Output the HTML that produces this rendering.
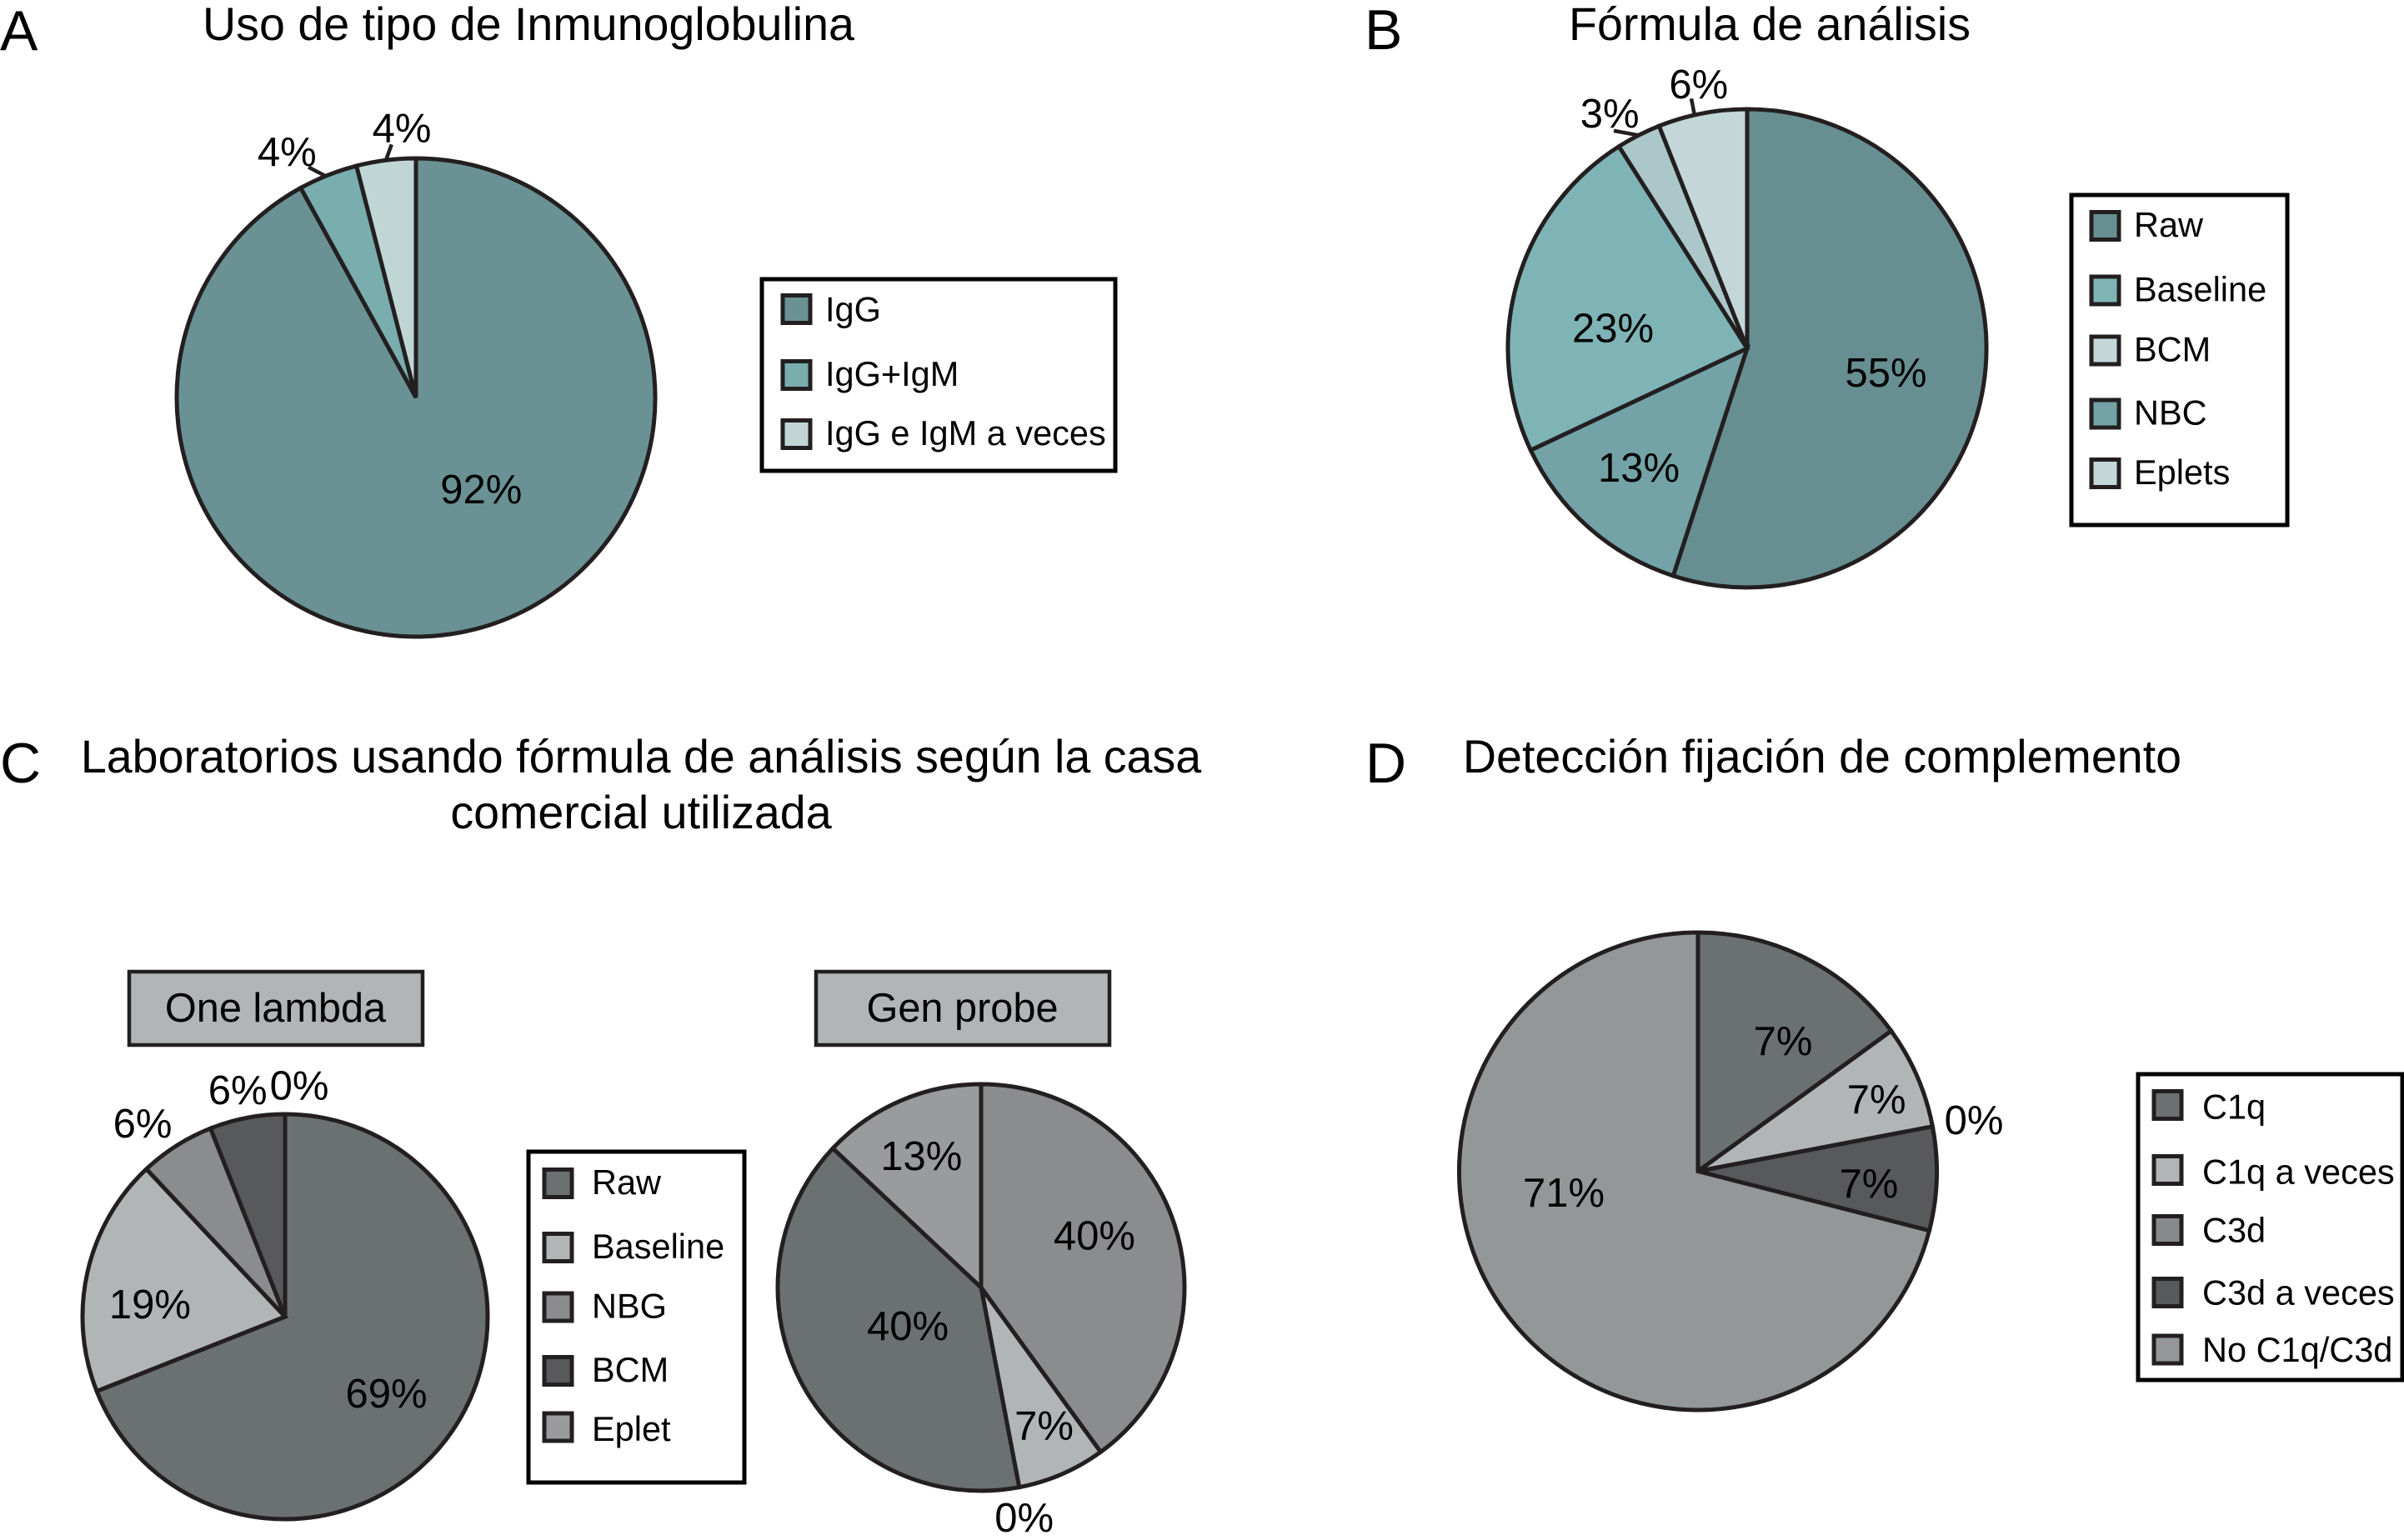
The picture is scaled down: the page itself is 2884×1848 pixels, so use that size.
<!DOCTYPE html>
<html lang="es">
<head>
<meta charset="utf-8">
<title>Inmunoglobulina, fórmula de análisis y fijación de complemento</title>
<style>
html,body{margin:0;padding:0;background:#fff;}
svg{display:block;font-family:"Liberation Sans",Arial,sans-serif;fill:#000;}
</style>
</head>
<body>
<svg id="figure" xmlns="http://www.w3.org/2000/svg" width="2884" height="1848" viewBox="0 0 2884 1848">
  <rect x="0" y="0" width="2884" height="1848" fill="#ffffff"/>
  <text x="0" y="60" font-size="68">A</text>
  <text x="1637" y="59" font-size="68">B</text>
  <text x="0" y="939" font-size="68">C</text>
  <text x="1638" y="939" font-size="68">D</text>
  <text x="634" y="48" font-size="55.6" text-anchor="middle">Uso de tipo de Inmunoglobulina</text>
  <text x="2123" y="48" font-size="55.6" text-anchor="middle">Fórmula de análisis</text>
  <text x="769" y="927" font-size="55.6" text-anchor="middle">Laboratorios usando fórmula de análisis según la casa</text>
  <text x="769" y="994" font-size="55.6" text-anchor="middle">comercial utilizada</text>
  <text x="2186" y="927" font-size="55.6" text-anchor="middle">Detección fijación de complemento</text>
  <rect x="155" y="1166" width="352" height="88" fill="#b1b5b6" stroke="#231f20" stroke-width="4.5"/>
  <text x="330.5" y="1226" font-size="48.7" text-anchor="middle">One lambda</text>
  <rect x="979" y="1166" width="352" height="88" fill="#b1b5b6" stroke="#231f20" stroke-width="4.5"/>
  <text x="1154.5" y="1226" font-size="48.7" text-anchor="middle">Gen probe</text>
  <g id="plots"></g>
</svg>
<script>
// ---- Data (slices run clockwise from 12 o'clock) ----
const panelACategories = ["IgG", "IgG+IgM", "IgG e IgM a veces"];
const panelAValues = [92, 4, 4];
const panelALabels = ["92%", "4%", "4%"];

const panelBCategories = ["Raw", "NBC", "Baseline", "BCM", "Eplets"];
const panelBValues = [55, 13, 23, 3, 6];
const panelBLabels = ["55%", "13%", "23%", "3%", "6%"];
const panelBLegendCategories = ["Raw", "Baseline", "BCM", "NBC", "Eplets"];

const oneLambdaCategories = ["Raw", "Baseline", "NBG", "BCM", "Eplet"];
const oneLambdaValues = [69, 19, 6, 6, 0];
const oneLambdaLabels = ["69%", "19%", "6%", "6%", "0%"];

const genProbeCategories = ["NBG", "Baseline", "BCM", "Raw", "Eplet"];
const genProbeValues = [40, 7, 0, 40, 13];
const genProbeLabels = ["40%", "7%", "0%", "40%", "13%"];
const panelCLegendCategories = ["Raw", "Baseline", "NBG", "BCM", "Eplet"];

const panelDCategories = ["C1q", "C1q a veces", "C3d", "C3d a veces", "No C1q/C3d"];
const panelDValues = [15, 7, 0, 7, 71];
const panelDLabels = ["7%", "7%", "0%", "7%", "71%"];

// ---- Styling and layout, kept apart from the data ----
const INK = "#231f20";
const paletteA = {"IgG": "#6a9294", "IgG+IgM": "#79adae", "IgG e IgM a veces": "#bfd6d5"};
const paletteB = {"Raw": "#678f91", "NBC": "#73a3a6", "Baseline": "#7fb4b6", "BCM": "#abc7ca", "Eplets": "#c3d7d9"};
const paletteBLegend = {"Raw": "#678f91", "Baseline": "#7fb4b6", "BCM": "#c3d7d9", "NBC": "#73a3a6", "Eplets": "#c3d7d9"};
const paletteC = {"Raw": "#6b7071", "Baseline": "#b1b5b6", "NBG": "#8a8c8e", "BCM": "#58595b", "Eplet": "#999b9d"};
const paletteD = {"C1q": "#6b7071", "C1q a veces": "#b1b5b6", "C3d": "#87898b", "C3d a veces": "#58595b", "No C1q/C3d": "#939797"};

const plots = document.getElementById("plots");
const SVG_NS = "http://www.w3.org/2000/svg";

function make(tag, attrs, parent) {
  const el = document.createElementNS(SVG_NS, tag);
  Object.keys(attrs).forEach(function (k) { el.setAttribute(k, attrs[k]); });
  parent.appendChild(el);
  return el;
}
function slug(s) {
  return s.toLowerCase().replace(/[^a-z0-9]+/g, "-");
}
// Angle axis: cumulative share to clockwise degrees from 12 o'clock.
function angleOf(share) {
  return share * 360;
}
function polar(p, deg, radius) {
  const a = deg * Math.PI / 180;
  return [p.cx + radius * Math.sin(a), p.cy - radius * Math.cos(a)];
}

function drawPie(p) {
  const group = make("g", {}, plots);
  
  
  const total = p.values.reduce(function (a, b) { return a + b; }, 0);
  let acc = 0;
  const mids = [];
  p.values.forEach(function (v, i) {
    const start = angleOf(acc / total);
    acc += v;
    const end = angleOf(acc / total);
    mids.push((start + end) / 2);
    if (v <= 0) { return; }
    const a = polar(p, start, p.r);
    const b = polar(p, end, p.r);
    const large = end - start > 180 ? 1 : 0;
    const d = "M" + p.cx + " " + p.cy + " L" + a[0] + " " + a[1] +
      " A" + p.r + " " + p.r + " 0 " + large + " 1 " + b[0] + " " + b[1] + " Z";
    const wedge = make("path", {d: d, fill: p.palette[p.categories[i]], stroke: INK, "stroke-width": 5, "stroke-linejoin": "miter", "stroke-miterlimit": 3}, group);
    
    
  });
  (p.leaders || []).forEach(function (l) {
    const m = mids[l.slice];
    const inner = polar(p, m + l.daIn, p.r);
    const outer = polar(p, m + l.daOut, p.r * l.f);
    const line = make("line", {x1: inner[0], y1: inner[1], x2: outer[0], y2: outer[1], stroke: INK, "stroke-width": 4.5}, group);
    
    
  });
  p.labels.forEach(function (text, i) {
    const place = p.labelPlace[i];
    const pt = polar(p, mids[i] + place[1], p.r * place[0]);
    const t = make("text", {x: pt[0], y: pt[1] + 17, "font-size": 49, "text-anchor": "middle"}, group);
    t.textContent = text;
    
    
  });
}

function drawLegend(l) {
  const group = make("g", {}, plots);
  
  
  const box = make("rect", {x: l.x, y: l.y, width: l.w, height: l.h, fill: "#ffffff", stroke: "#000000", "stroke-width": 5}, group);
  
  
  l.categories.forEach(function (c, i) {
    const sw = make("rect", {x: l.swX, y: l.rows[i] - 16.5, width: 33, height: 33, fill: l.palette[c], stroke: INK, "stroke-width": 5}, group);
    
    
    const t = make("text", {x: l.textX, y: l.rows[i] + 13 + l.textNudge[i], "font-size": 41.5}, group);
    t.textContent = c;
    
    
  });
}

drawPie({
  name: "pie-inmunoglobulina", cx: 499, cy: 477, r: 287,
  categories: panelACategories, values: panelAValues, labels: panelALabels, palette: paletteA,
  labelPlace: [[.47, -21.1], [1.16, -6.1], [1.128, 4.2]],
  leaders: [{slice: 1, daIn: -0.6, daOut: -3.4, f: 1.063}, {slice: 2, daIn: 0, daOut: 1.7, f: 1.063}]
});
drawPie({
  name: "pie-formula-analisis", cx: 2096, cy: 418, r: 287,
  categories: panelBCategories, values: panelBValues, labels: panelBLabels, palette: paletteB,
  labelPlace: [[.589, .9], [.673, .9], [.567, -7.6], [1.138, -3.3], [1.123, .4]],
  leaders: [{slice: 3, daIn: 0, daOut: -4.5, f: 1.067}, {slice: 4, daIn: -1.9, daOut: -1.8, f: 1.07}]
});
drawPie({
  name: "pie-one-lambda", cx: 342, cy: 1580, r: 243,
  categories: oneLambdaCategories, values: oneLambdaValues, labels: oneLambdaLabels, palette: paletteC,
  labelPlace: [[.627, 2.9], [.67, -7.3], [1.186, -4], [1.144, -1], [1.145, 3.5]]
});
drawPie({
  name: "pie-gen-probe", cx: 1177, cy: 1545, r: 244,
  categories: genProbeCategories, values: genProbeValues, labels: genProbeLabels, palette: paletteC,
  labelPlace: [[.613, -6.7], [.746, -1.1], [1.15, .2], [.407, 1.2], [.711, -1]]
});
drawPie({
  name: "pie-fijacion-complemento", cx: 2037, cy: 1405.5, r: 286.5,
  categories: panelDCategories, values: panelDValues, labels: panelDLabels, palette: paletteD,
  labelPlace: [[.652, 6.1], [.806, 1.4], [1.175, .3], [.717, 2.2], [.569, 28.8]]
});

drawLegend({
  name: "legend-inmunoglobulina", x: 914, y: 335, w: 424, h: 230, swX: 939, textX: 990,
  rows: [371, 450, 521], textNudge: [1.5, 0, 0], categories: panelACategories, palette: paletteA
});
drawLegend({
  name: "legend-formula-analisis", x: 2485, y: 234, w: 259, h: 396, swX: 2509, textX: 2560,
  rows: [271, 348.5, 420.5, 496.5, 568], textNudge: [0, 0, 0, 0, 0], categories: panelBLegendCategories, palette: paletteBLegend
});
drawLegend({
  name: "legend-casa-comercial", x: 634, y: 1382, w: 259, h: 397, swX: 653, textX: 710,
  rows: [1420, 1497, 1568.5, 1645, 1712.5], textNudge: [0, 0, 0, 0, 3.5], categories: panelCLegendCategories, palette: paletteC
});
drawLegend({
  name: "legend-fijacion-complemento", x: 2565, y: 1289, w: 317, h: 367, swX: 2584, textX: 2642,
  rows: [1326, 1404, 1476, 1551, 1619.5], textNudge: [3.5, 3.5, 1.5, 1.5, 1.5], categories: panelDCategories, palette: paletteD
});
</script>
</body>
</html>
